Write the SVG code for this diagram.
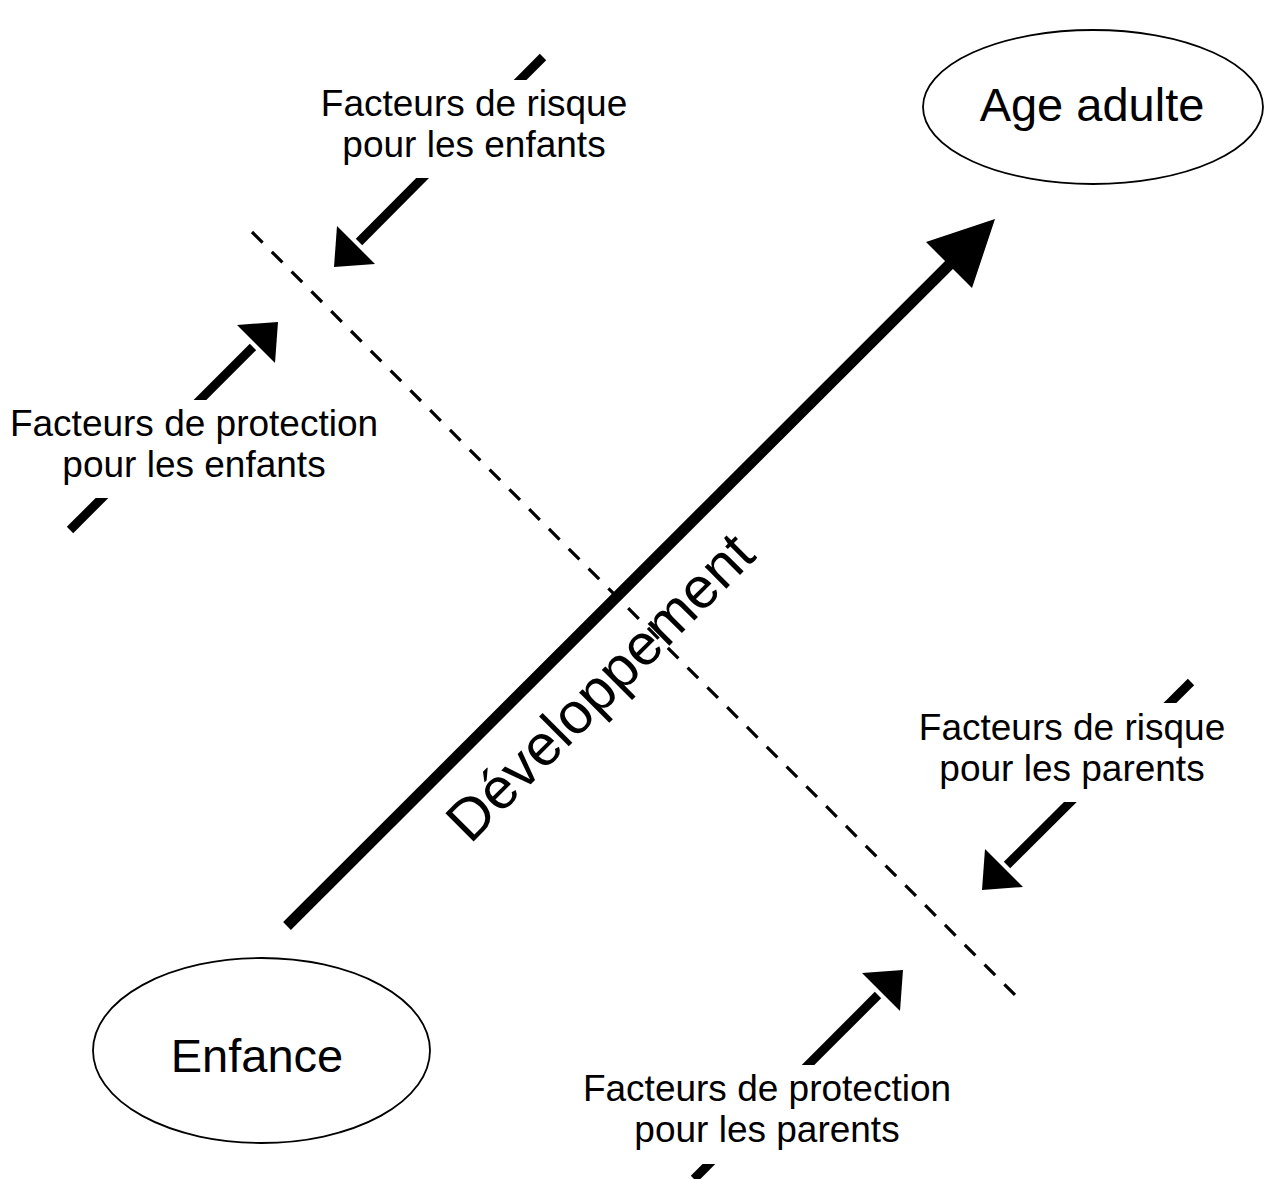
<svg xmlns="http://www.w3.org/2000/svg" width="1270" height="1179" viewBox="0 0 1270 1179">
<style>
.lbl{font-family:"Liberation Sans",Arial,sans-serif;font-size:37px;fill:#000;text-anchor:middle}
.node{font-family:"Liberation Sans",Arial,sans-serif;font-size:47px;fill:#000;text-anchor:middle}
.dev{font-family:"Liberation Sans",Arial,sans-serif;font-size:58px;fill:#000;text-anchor:middle}
.ell{fill:#fff;stroke:#000;stroke-width:1.8}
.shaft{stroke:#000;stroke-width:9;fill:none}
.head{fill:#000;stroke:none}
.mask{fill:#fff;stroke:none}
</style>
<rect width="1270" height="1179" fill="#fff"/>
<g id="connectors">
  <line id="dashed-boundary" x1="252" y1="232" x2="1015" y2="995" stroke="#000" stroke-width="3.2" stroke-dasharray="15 13"/>
  <g id="main-arrow">
    <line x1="287" y1="926" x2="952" y2="262" stroke="#000" stroke-width="11"/>
    <polygon class="head" points="995,219 926,242 972,288"/>
  </g>
  <g id="arrow-risk-children">
    <line class="shaft" x1="543" y1="57" x2="359" y2="242"/>
    <polygon class="head" points="334,267 337,226 375,264"/>
  </g>
  <g id="arrow-protection-children">
    <line class="shaft" x1="70" y1="530" x2="253" y2="347"/>
    <polygon class="head" points="278,322 237,325 275,363"/>
  </g>
  <g id="arrow-risk-parents">
    <line class="shaft" x1="1191" y1="682" x2="1007" y2="865"/>
    <polygon class="head" points="982,890 985,849 1023,887"/>
  </g>
  <g id="arrow-protection-parents">
    <line class="shaft" x1="694" y1="1179" x2="878" y2="995"/>
    <polygon class="head" points="903,970 862,973 900,1011"/>
  </g>
</g>
<g id="label-risk-children">
  <rect class="mask" x="316" y="80" width="316" height="98"/>
  <text class="lbl" x="474" y="116">Facteurs de risque</text>
  <text class="lbl" x="474" y="157">pour les enfants</text>
</g>
<g id="label-protection-children">
  <rect class="mask" x="4" y="400" width="382" height="98"/>
  <text class="lbl" x="194" y="436">Facteurs de protection</text>
  <text class="lbl" x="194" y="477">pour les enfants</text>
</g>
<g id="label-risk-parents">
  <rect class="mask" x="914" y="703" width="316" height="99"/>
  <text class="lbl" x="1072" y="740">Facteurs de risque</text>
  <text class="lbl" x="1072" y="781">pour les parents</text>
</g>
<g id="label-protection-parents">
  <rect class="mask" x="576" y="1065" width="382" height="99"/>
  <text class="lbl" x="767" y="1101">Facteurs de protection</text>
  <text class="lbl" x="767" y="1142">pour les parents</text>
</g>
<g id="node-age-adulte">
  <ellipse class="ell" cx="1093" cy="107" rx="170" ry="77"/>
  <text class="node" x="1092" y="121">Age adulte</text>
</g>
<g id="node-enfance">
  <ellipse class="ell" cx="261.5" cy="1050.5" rx="168.5" ry="92.5"/>
  <text class="node" x="257" y="1072">Enfance</text>
</g>
<g id="label-developpement">
  <text class="dev" transform="translate(614,701) rotate(-45)" x="0" y="0">Développement</text>
</g>
</svg>
